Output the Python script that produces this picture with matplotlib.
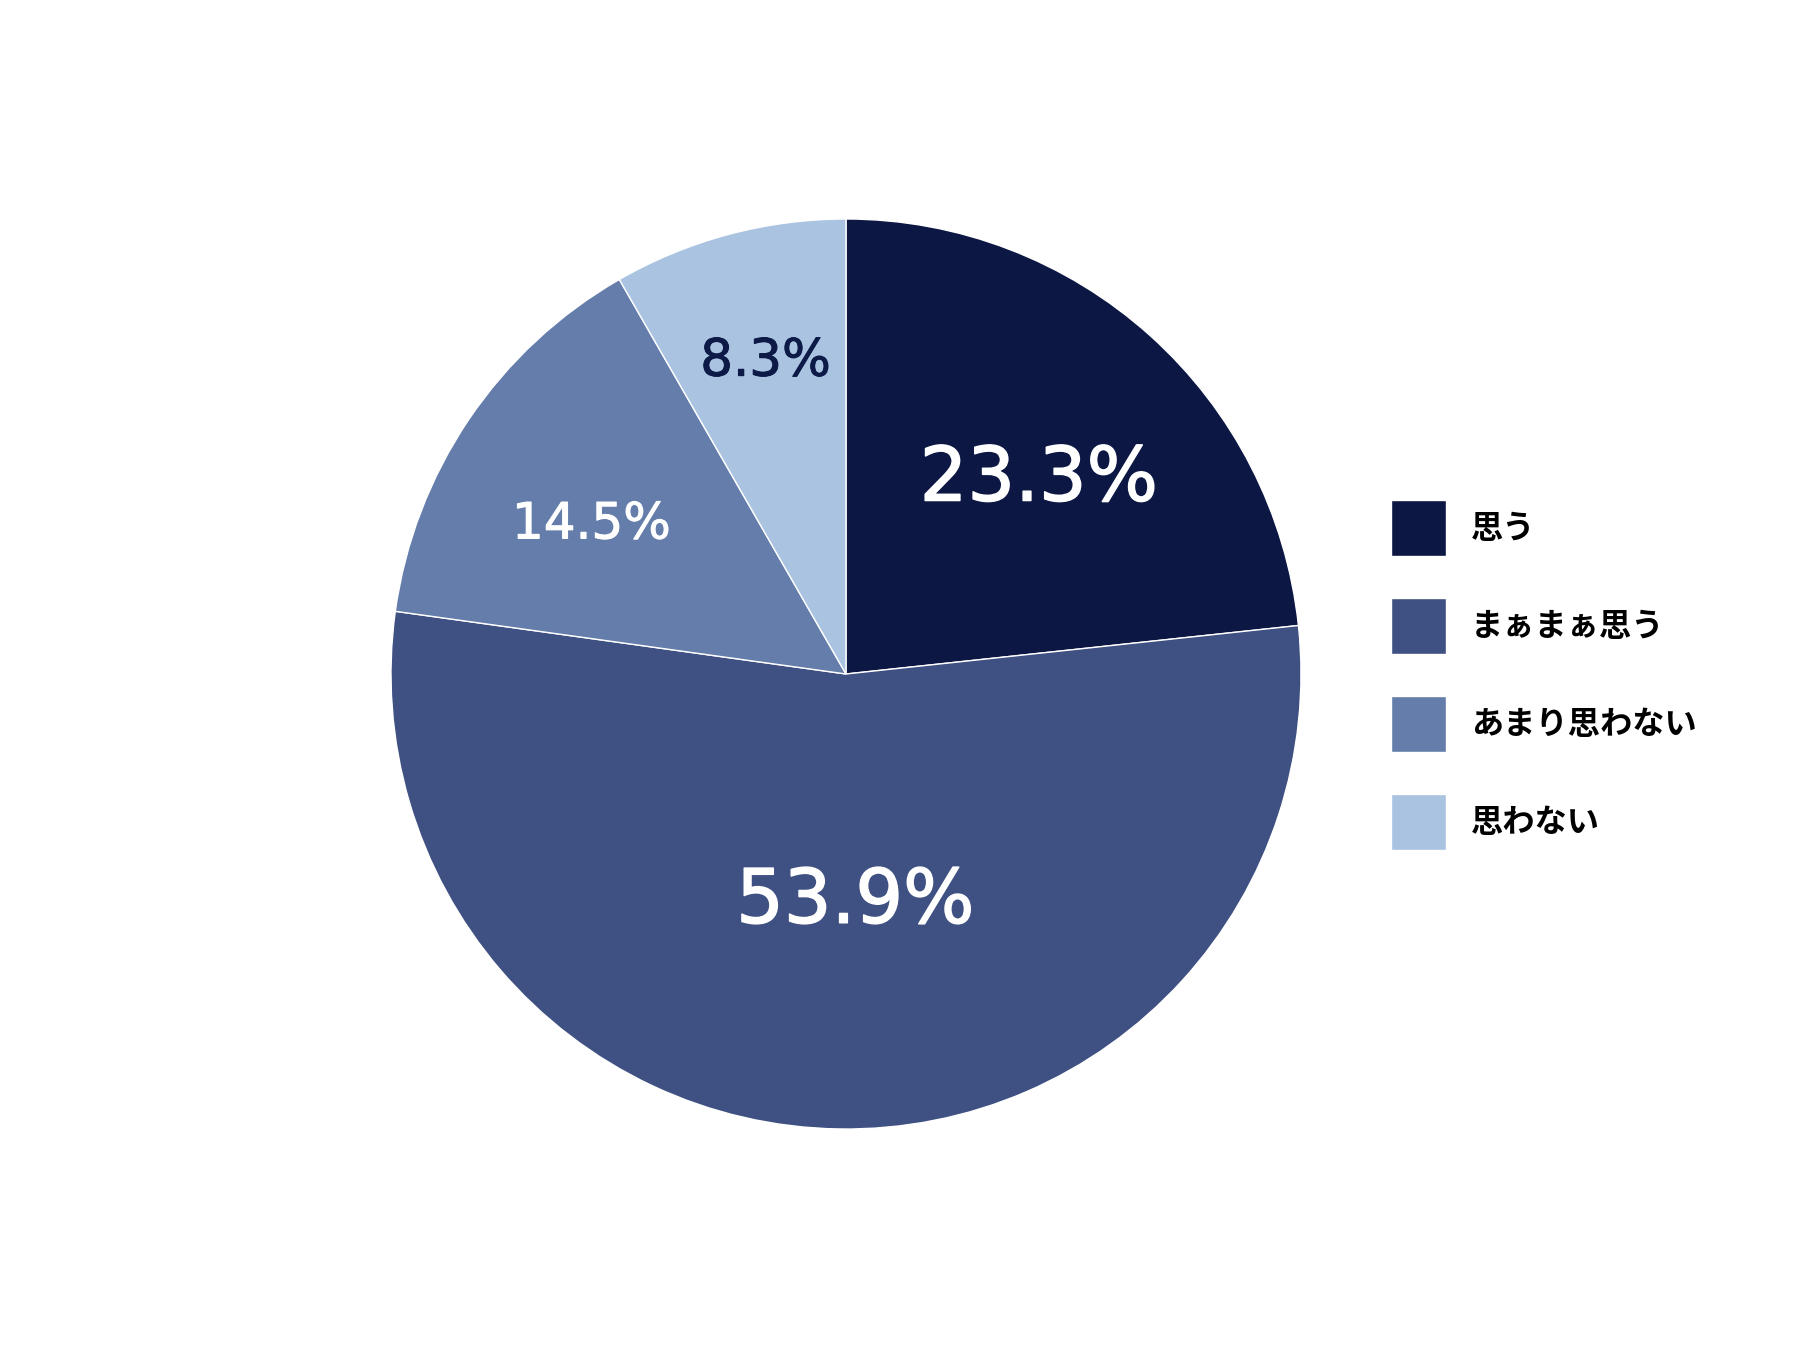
import numpy as np
import matplotlib
matplotlib.use('Agg')
import matplotlib.pyplot as plt
from matplotlib import transforms
import matplotlib.patheffects as pe

plt.rcParams['font.family'] = ['Noto Sans CJK JP', 'DejaVu Sans']

# Data
categories = ['思う', 'まぁまぁ思う', 'あまり思わない', '思わない']
shares = [23.3, 53.9, 14.5, 8.3]
colors = ['#0c1744', '#3f5082', '#647dab', '#a9c3e1']
label_colors = ['white', 'white', 'white', '#0d1a47']
label_sizes = [54, 54, 36, 37]
label_radius = [0.612, 0.487, 0.654, 0.719]
label_turn = [-1.9, 3.3, 2.9, -0.7]

fig = plt.figure(figsize=(18, 13.5), dpi=100)
ax = fig.add_axes([391 / 1800, 221 / 1350, 910 / 1800, 910 / 1350])

wedges, _ = ax.pie(shares, colors=colors, startangle=90, counterclock=False,
                   radius=1.0, wedgeprops=dict(edgecolor='white', linewidth=1))
ax.set_xlim(-1, 1)
ax.set_ylim(-1, 1)
ax.set_aspect('equal')
ax.axis('off')

# Percentage labels inside slices (baseline shifted so digits sit centred)
for w, val, c, fs, r, t in zip(wedges, shares, label_colors, label_sizes,
                               label_radius, label_turn):
    ang = np.deg2rad((w.theta1 + w.theta2) / 2 + t)
    tr = transforms.offset_copy(ax.transData, fig=fig, x=0, y=-0.365 * fs, units='points')
    ax.text(r * np.cos(ang), r * np.sin(ang), f'{val}%', color=c, fontsize=fs,
            ha='center', va='baseline', family='DejaVu Sans', transform=tr,
            path_effects=[pe.withStroke(linewidth=fs / 50, foreground=c)])

# Legend on the right
fig.legend(wedges, categories, loc='center left',
           bbox_to_anchor=(1391 / 1800, 0.5), bbox_transform=fig.transFigure,
           frameon=False, prop={'weight': 'bold', 'size': 23.2},
           handlelength=1.72, handleheight=2.3, labelspacing=1.3,
           handletextpad=0.75, borderpad=0, borderaxespad=0)

fig.savefig('out.png', dpi=100, facecolor='white')
